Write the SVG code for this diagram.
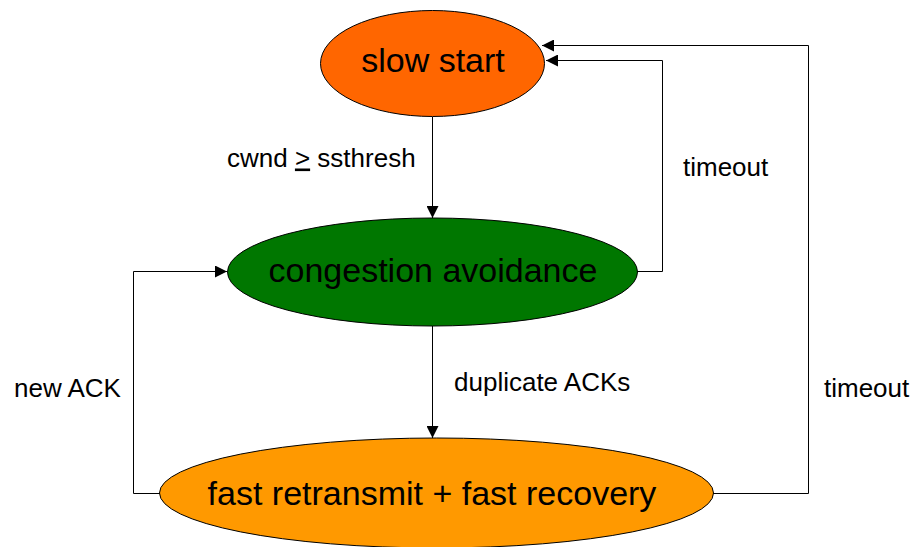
<svg xmlns="http://www.w3.org/2000/svg" width="913" height="547" viewBox="0 0 913 547">
<style>
.node{stroke:#000;stroke-width:1}
.nt{font-family:"Liberation Sans",Arial,sans-serif;font-size:34px;fill:#000;text-anchor:middle}
.lbl{font-family:"Liberation Sans",Arial,sans-serif;font-size:26px;fill:#000}
.edge{fill:none;stroke:#000;stroke-width:1}
</style>
<defs>
<marker id="arr" viewBox="0 0 10 10" refX="10" refY="5" markerWidth="12" markerHeight="12" markerUnits="userSpaceOnUse" orient="auto">
<path d="M0,0 L10,5 L0,10 z" fill="#000"/>
</marker>
</defs>
<rect width="913" height="547" fill="#fff"/>
<g id="slow-start">
<ellipse class="node" cx="432.5" cy="63.5" rx="112" ry="53" fill="#ff6600"/>
<text class="nt" x="433" y="72">slow start</text>
</g>
<g id="congestion-avoidance">
<ellipse class="node" cx="432.5" cy="272" rx="205" ry="54" fill="#007700"/>
<text class="nt" x="433" y="282">congestion avoidance</text>
</g>
<g id="fast-retransmit">
<ellipse class="node" cx="436.5" cy="493" rx="277" ry="55" fill="#ff9900"/>
<text class="nt" x="432" y="505">fast retransmit + fast recovery</text>
</g>
<g id="connectors">
<path class="edge" d="M432.5,117 V218" marker-end="url(#arr)"/>
<path class="edge" d="M432.5,326 V438" marker-end="url(#arr)"/>
<path class="edge" d="M637,271.5 H662.5 V60.5 H546" marker-end="url(#arr)"/>
<path class="edge" d="M713,493.5 H808.5 V45.5 H542" marker-end="url(#arr)"/>
<path class="edge" d="M160,493.5 H133.5 V271.5 H227" marker-end="url(#arr)"/>
</g>
<g id="labels">
<text class="lbl" x="227" y="166.5">cwnd <tspan text-decoration="underline">&gt;</tspan> ssthresh</text>
<text class="lbl" x="683" y="175.5">timeout</text>
<text class="lbl" x="454" y="391">duplicate ACKs</text>
<text class="lbl" x="14" y="396.5">new ACK</text>
<text class="lbl" x="824" y="396.5">timeout</text>
</g>
</svg>
